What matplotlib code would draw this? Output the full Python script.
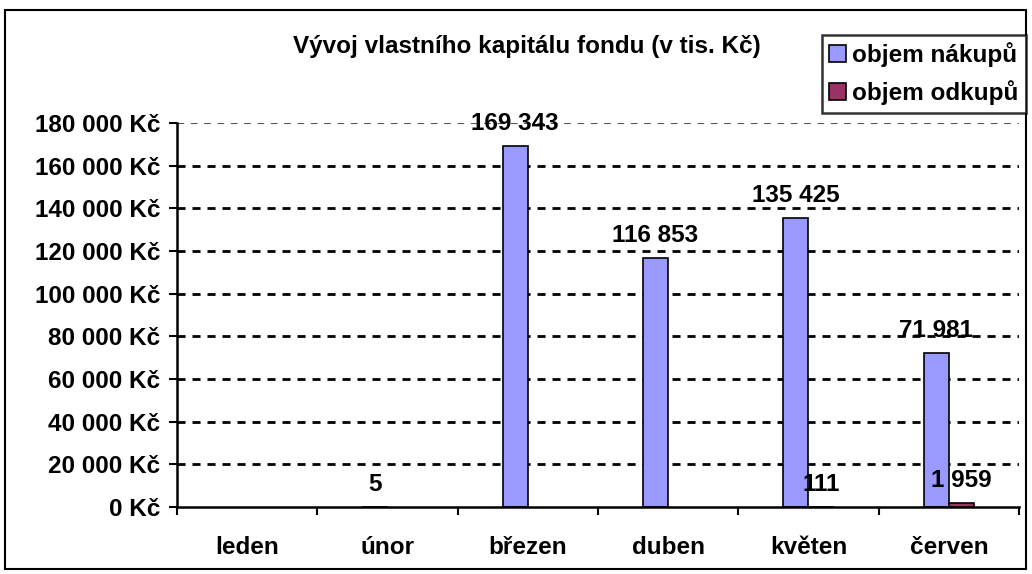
import matplotlib
matplotlib.use("Agg")
import matplotlib.pyplot as plt
import numpy as np
from matplotlib.patches import Rectangle

plt.rcParams['font.family'] = ['Liberation Sans', 'DejaVu Sans']
plt.rcParams['font.weight'] = 'bold'

months = ["leden", "únor", "březen", "duben", "květen", "červen"]
nakupy = [np.nan, 5, 169343, 116853, 135425, 71981]
odkupy = [np.nan, np.nan, np.nan, np.nan, 111, 1959]
nakupy_labels = ["", "5", "169 343", "116 853", "135 425", "71 981"]
odkupy_labels = ["", "", "", "", "111", "1 959"]
yticks = [0, 20000, 40000, 60000, 80000, 100000, 120000, 140000, 160000, 180000]
ytick_labels = ["0 Kč", "20 000 Kč", "40 000 Kč", "60 000 Kč", "80 000 Kč",
                "100 000 Kč", "120 000 Kč", "140 000 Kč", "160 000 Kč", "180 000 Kč"]
title = "Vývoj vlastního kapitálu fondu (v tis. Kč)"
series_names = ["objem nákupů", "objem odkupů"]
c_blue = "#9999FF"
c_red = "#993366"
FS = 17.5

fig = plt.figure(figsize=(10.32, 5.74), dpi=100)
fig.patch.set_facecolor("white")
fig.patches.append(Rectangle((5/1032, 5/574), 1021/1032, 559/574, transform=fig.transFigure,
                             fill=False, edgecolor="black", linewidth=1.5, zorder=0))

ax = fig.add_axes([177/1032, 67/574, 842/1032, 384/574])
x = np.arange(len(months))
w = 0.18
ax.bar(x - w/2, nakupy, width=w, color=c_blue, edgecolor="black", linewidth=1.2, zorder=3,
       label=series_names[0])
ax.bar(x + w/2, odkupy, width=w, color=c_red, edgecolor="black", linewidth=1.2, zorder=3,
       label=series_names[1])

ax.set_xlim(-0.5, len(months) - 0.5)
ax.set_ylim(0, 180000)
ax.set_yticks(yticks)
ax.set_yticklabels(ytick_labels, fontsize=FS, fontweight="bold")
ax.set_xticks(x)
ax.set_xticklabels(months, fontsize=FS, fontweight="bold")
ax.tick_params(axis="x", length=0, pad=21)
ax.set_xticks(np.arange(len(months) + 1) - 0.5, minor=True)
ax.tick_params(axis="x", which="minor", length=6, width=1.5, direction="out")
ax.tick_params(axis="y", length=6, width=1.5, direction="out", pad=6)

for s in ["top", "right"]:
    ax.spines[s].set_visible(False)
for s in ["left", "bottom"]:
    ax.spines[s].set_linewidth(1.8)
    ax.spines[s].set_zorder(4)

for yv in yticks[1:-1]:
    ax.axhline(yv, color="black", linewidth=2.0, linestyle=(0, (2.9, 2.5)), zorder=1)
ax.axhline(yticks[-1], color="#555555", linewidth=0.8, linestyle=(0, (6, 6)), zorder=1)

for i in range(len(months)):
    if nakupy_labels[i]:
        ax.annotate(nakupy_labels[i], (x[i] - w/2, nakupy[i]), xytext=(0, 8),
                    textcoords="offset points", ha="center", va="bottom",
                    fontsize=FS, fontweight="bold", zorder=5)
    if odkupy_labels[i]:
        ax.annotate(odkupy_labels[i], (x[i] + w/2, odkupy[i]), xytext=(0, 8),
                    textcoords="offset points", ha="center", va="bottom",
                    fontsize=FS, fontweight="bold", zorder=5)

fig.text(527/1032, 1 - 47/574, title, ha="center", va="center", fontsize=FS, fontweight="bold")

leg = fig.legend(loc="upper right", bbox_to_anchor=(1026/1032, 1 - 35/574),
                 fontsize=FS, frameon=True, fancybox=False, edgecolor="black",
                 handlelength=0.7, handleheight=0.7, handletextpad=0.25,
                 borderpad=0.3, labelspacing=0.55, borderaxespad=0)
leg.get_frame().set_linewidth(1.8)
for t in leg.get_texts():
    t.set_fontweight("bold")

fig.savefig("out.png", dpi=100)
